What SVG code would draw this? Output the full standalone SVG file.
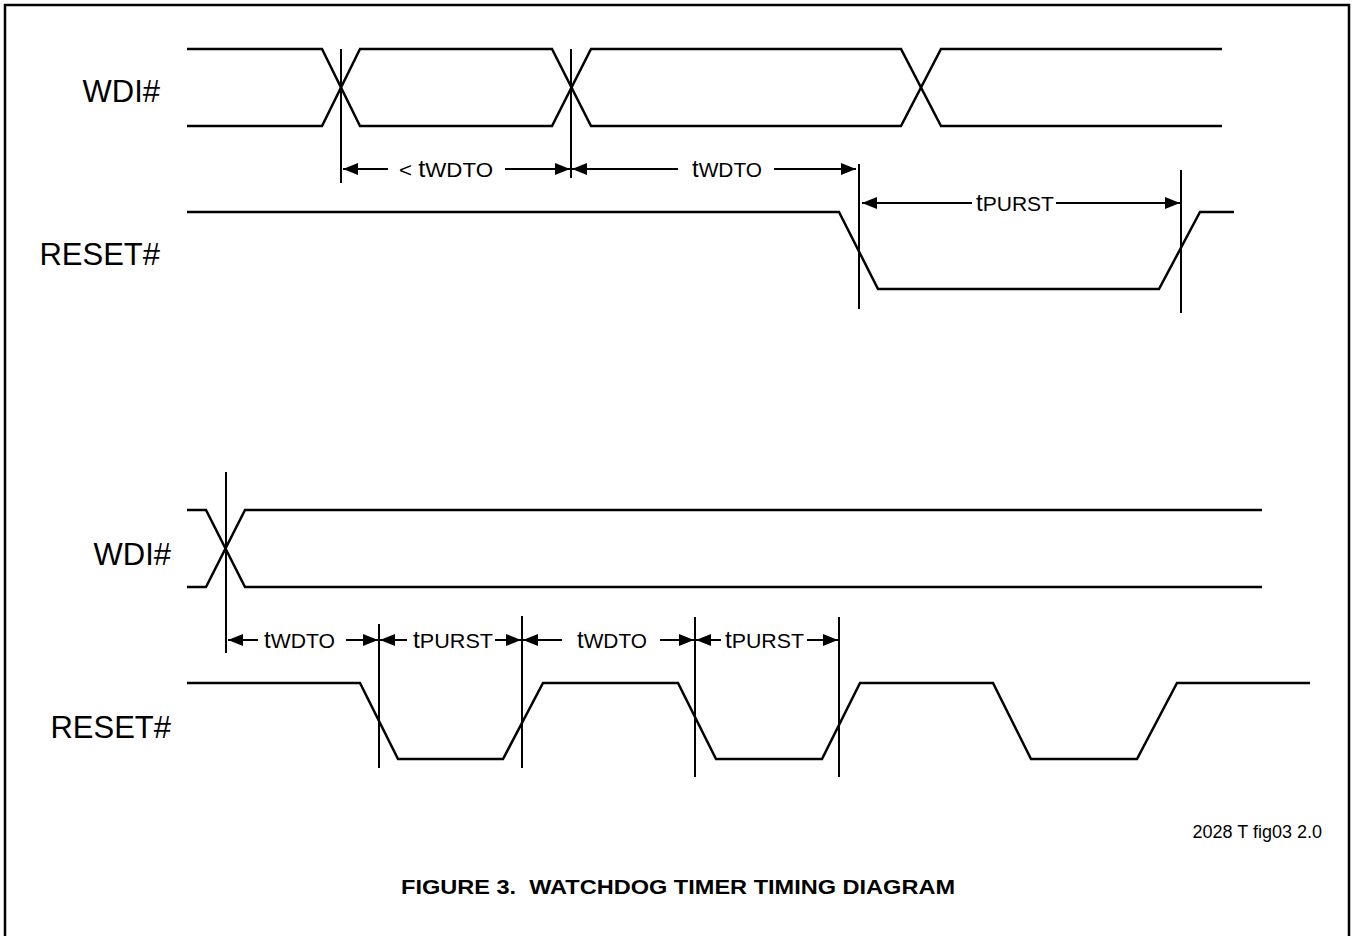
<svg xmlns="http://www.w3.org/2000/svg" width="1353" height="936" viewBox="0 0 1353 936">
<defs>
<marker id="ah" markerUnits="userSpaceOnUse" markerWidth="16" markerHeight="12" refX="15" refY="6" orient="auto">
<path d="M0,0 L15,6 L0,12 Z" fill="#000"/>
</marker>
<style>
.sig{fill:none;stroke:#000;stroke-width:2.5;stroke-linejoin:miter}
.vl{stroke:#000;stroke-width:2;fill:none}
.dim{stroke:#000;stroke-width:2;fill:none;marker-end:url(#ah)}
.lbl{font-family:"Liberation Sans",Arial,sans-serif;font-size:31px;fill:#000}
.tm{font-family:"Liberation Sans",Arial,sans-serif;font-size:21px;fill:#000;white-space:pre}
.tt{font-size:24px}
.note{font-family:"Liberation Sans",Arial,sans-serif;font-size:18px;fill:#000}
.title{font-family:"Liberation Sans",Arial,sans-serif;font-size:21px;font-weight:bold;fill:#000;white-space:pre}
</style>
</defs>
<rect x="5" y="5" width="1344" height="945" fill="#fff" stroke="#000" stroke-width="2.5"/>

<g id="wdi-top">
<text class="lbl" x="160" y="102" text-anchor="end">WDI#</text>
<path class="sig" d="M187,49 L322,49 L360,126 L552,126 L591,49 L901,49 L941,126 L1222,126"/>
<path class="sig" d="M187,126 L322,126 L360,49 L552,49 L591,126 L901,126 L941,49 L1222,49"/>
</g>

<g id="reset-top">
<text class="lbl" x="160" y="265" text-anchor="end">RESET#</text>
<path class="sig" d="M187,212 L839,212 L878,289 L1159,289 L1200,212 L1234,212"/>
</g>

<g id="wdi-bottom">
<text class="lbl" x="171" y="565" text-anchor="end">WDI#</text>
<path class="sig" d="M187,510 L206,510 L245,587 L1262,587"/>
<path class="sig" d="M187,587 L206,587 L245,510 L1262,510"/>
</g>

<g id="reset-bottom">
<text class="lbl" x="171" y="738" text-anchor="end">RESET#</text>
<path class="sig" d="M187,683 L360,683 L398,759 L503,759 L543,683 L678,683 L716,759 L822,759 L860,683 L993,683 L1031,759 L1137,759 L1177,683 L1310,683"/>
</g>

<g id="connectors">
<line class="vl" x1="341" y1="49" x2="341" y2="183"/>
<line class="vl" x1="571" y1="49" x2="571" y2="178"/>
<line class="vl" x1="859" y1="164" x2="859" y2="309"/>
<line class="vl" x1="1181" y1="170" x2="1181" y2="313"/>
<line class="dim" x1="388" y1="169" x2="343" y2="169"/>
<line class="dim" x1="505" y1="169" x2="570" y2="169"/>
<line class="dim" x1="678" y1="169" x2="572" y2="169"/>
<line class="dim" x1="774" y1="169" x2="856" y2="169"/>
<line class="dim" x1="972" y1="203" x2="862" y2="203"/>
<line class="dim" x1="1056" y1="203" x2="1180" y2="203"/>
<line class="vl" x1="226" y1="472" x2="226" y2="653"/>
<line class="vl" x1="379" y1="624" x2="379" y2="768"/>
<line class="vl" x1="522" y1="616" x2="522" y2="768"/>
<line class="vl" x1="695" y1="617" x2="695" y2="777"/>
<line class="vl" x1="839" y1="617" x2="839" y2="777"/>
<line class="dim" x1="258" y1="640" x2="228" y2="640"/>
<line class="dim" x1="346" y1="640" x2="378" y2="640"/>
<line class="dim" x1="407" y1="640" x2="380" y2="640"/>
<line class="dim" x1="495" y1="640" x2="521" y2="640"/>
<line class="dim" x1="562" y1="640" x2="523" y2="640"/>
<line class="dim" x1="660" y1="640" x2="694" y2="640"/>
<line class="dim" x1="721" y1="640" x2="696" y2="640"/>
<line class="dim" x1="807" y1="640" x2="838" y2="640"/>
</g>

<g id="timing-labels">
<text class="tm" x="399" y="177" textLength="94" lengthAdjust="spacingAndGlyphs">&lt; <tspan class="tt">t</tspan>WDTO</text>
<text class="tm" x="692" y="177" textLength="70" lengthAdjust="spacingAndGlyphs"><tspan class="tt">t</tspan>WDTO</text>
<text class="tm" x="976" y="211" textLength="78" lengthAdjust="spacingAndGlyphs"><tspan class="tt">t</tspan>PURST</text>
<text class="tm" x="264" y="648" textLength="71" lengthAdjust="spacingAndGlyphs"><tspan class="tt">t</tspan>WDTO</text>
<text class="tm" x="413" y="648" textLength="80" lengthAdjust="spacingAndGlyphs"><tspan class="tt">t</tspan>PURST</text>
<text class="tm" x="577" y="648" textLength="70" lengthAdjust="spacingAndGlyphs"><tspan class="tt">t</tspan>WDTO</text>
<text class="tm" x="725" y="648" textLength="79" lengthAdjust="spacingAndGlyphs"><tspan class="tt">t</tspan>PURST</text>
</g>

<g id="notes">
<text class="note" x="1322" y="838" text-anchor="end">2028 T fig03 2.0</text>
<text class="title" x="401" y="894" textLength="554" lengthAdjust="spacingAndGlyphs">FIGURE 3.  WATCHDOG TIMER TIMING DIAGRAM</text>
</g>
</svg>
